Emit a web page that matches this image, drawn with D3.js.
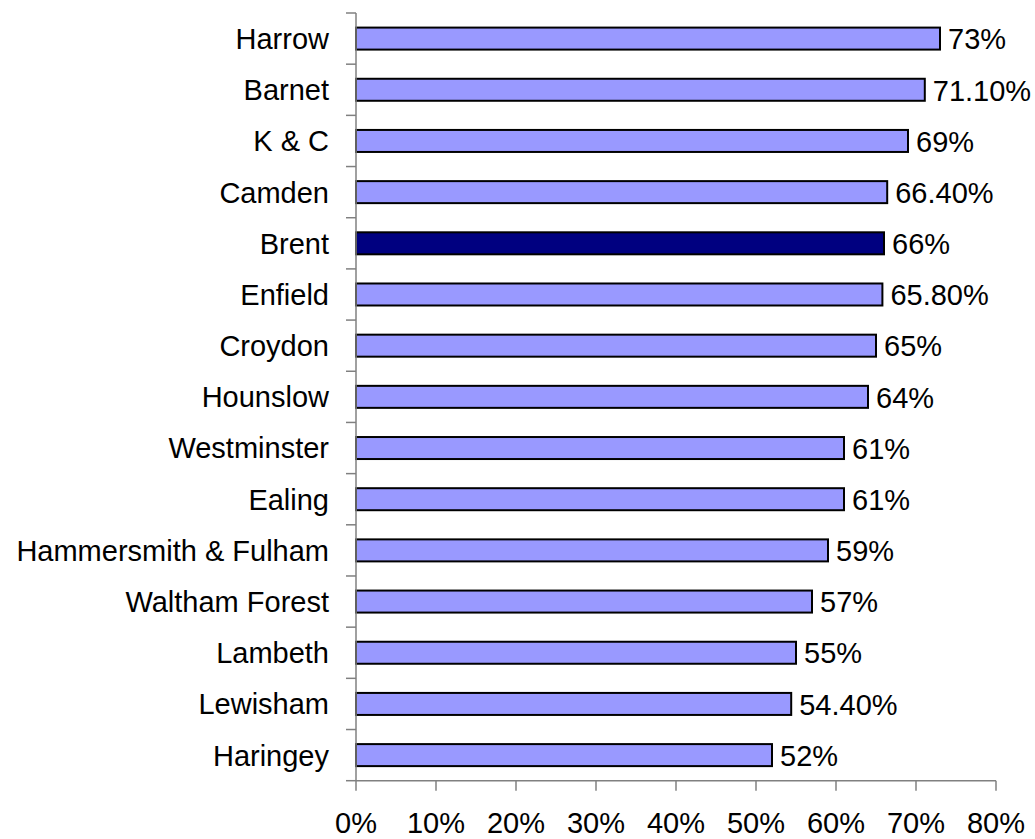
<!DOCTYPE html>
<html>
<head>
<meta charset="utf-8">
<script src="https://cdn.jsdelivr.net/npm/d3@7"></script>
<style>
  html, body { margin: 0; padding: 0; background: #fff; }
  svg { display: block; }
  text { font-family: "Liberation Sans", Arial, sans-serif; fill: #000; }
</style>
</head>
<body>
<svg id="chart" width="1035" height="839"></svg>
<script>
const categories = ["Harrow", "Barnet", "K & C", "Camden", "Brent", "Enfield", "Croydon", "Hounslow", "Westminster", "Ealing", "Hammersmith & Fulham", "Waltham Forest", "Lambeth", "Lewisham", "Haringey"];
const values = [73, 71.1, 69, 66.4, 66, 65.8, 65, 64, 61, 61, 59, 57, 55, 54.4, 52];
const valueLabels = ["73%", "71.10%", "69%", "66.40%", "66%", "65.80%", "65%", "64%", "61%", "61%", "59%", "57%", "55%", "54.40%", "52%"];
const highlighted = ["Brent"];
const xTicks = [0, 10, 20, 30, 40, 50, 60, 70, 80];
const xTickLabels = ["0%", "10%", "20%", "30%", "40%", "50%", "60%", "70%", "80%"];

(function () {
const svg = d3.select("#chart");
const plotLeft = 356, plotRight = 996, plotTop = 13, plotBottom = 780.7;
const fontSize = 29;

const x = d3.scaleLinear().domain([0, 80]).range([plotLeft, plotRight]);
const y = d3.scaleBand().domain(categories).range([plotTop, plotBottom]).paddingInner(0.57).paddingOuter(0.285);
const yEdge = d3.scaleLinear().domain([0, categories.length]).range([plotTop, plotBottom]);

// bars
svg.append("g").selectAll("rect").data(categories).join("rect")
  .attr("x", x(0))
  .attr("y", d => y(d))
  .attr("width", (d, i) => x(values[i]) - x(0))
  .attr("height", y.bandwidth())
  .attr("fill", d => highlighted.includes(d) ? "#000080" : "#9999ff")
  .attr("stroke", "#000")
  .attr("stroke-width", 2);

// value labels
svg.append("g").selectAll("text").data(categories).join("text")
  .attr("x", (d, i) => x(values[i]) + 8)
  .attr("y", d => y(d) + y.bandwidth() / 2)
  .attr("dy", "0.37em")
  .attr("font-size", fontSize)
  .text((d, i) => valueLabels[i]);

// category labels
svg.append("g").selectAll("text").data(categories).join("text")
  .attr("x", 329)
  .attr("y", d => y(d) + y.bandwidth() / 2)
  .attr("dy", "0.36em")
  .attr("text-anchor", "end")
  .attr("font-size", fontSize)
  .text(d => d);

const axisColor = "#808080";
// y axis line & ticks
svg.append("line")
  .attr("x1", plotLeft).attr("x2", plotLeft)
  .attr("y1", plotTop).attr("y2", plotBottom)
  .attr("stroke", axisColor).attr("stroke-width", 1.5);
svg.append("g").selectAll("line").data(d3.range(categories.length + 1)).join("line")
  .attr("x1", plotLeft - 10).attr("x2", plotLeft)
  .attr("y1", d => yEdge(d)).attr("y2", d => yEdge(d))
  .attr("stroke", axisColor).attr("stroke-width", 1.5);

// x axis
svg.append("line")
  .attr("x1", plotLeft).attr("x2", plotRight)
  .attr("y1", plotBottom).attr("y2", plotBottom)
  .attr("stroke", axisColor).attr("stroke-width", 1.5);
svg.append("g").selectAll("line").data(xTicks).join("line")
  .attr("x1", d => x(d)).attr("x2", d => x(d))
  .attr("y1", plotBottom).attr("y2", plotBottom + 10)
  .attr("stroke", axisColor).attr("stroke-width", 1.5);
svg.append("g").selectAll("text").data(xTicks).join("text")
  .attr("x", d => x(d))
  .attr("y", 833)
  .attr("text-anchor", "middle")
  .attr("font-size", fontSize)
  .text((d, i) => xTickLabels[i]);
})();
</script>
</body>
</html>
